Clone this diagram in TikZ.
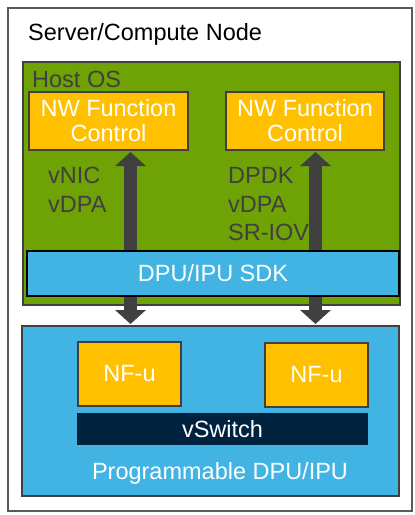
\documentclass[tikz,border=0pt]{standalone}
\usepackage{fontspec}
\setmainfont{Liberation Sans}
\usetikzlibrary{arrows.meta}
\definecolor{hostgreen}{HTML}{6FA204}
\definecolor{dpublue}{HTML}{41B4E4}
\definecolor{nfyellow}{HTML}{FFC000}
\definecolor{swnavy}{HTML}{00223F}
\definecolor{edgegray}{HTML}{404040}
\definecolor{outergray}{HTML}{5A5A5A}
\definecolor{labelgray}{HTML}{404040}
\tikzset{
  boxbase/.style={inner sep=0pt, outer sep=0pt, line width=2pt, draw=edgegray},
  yellowbox/.style={boxbase, fill=nfyellow, text=white, align=center,
    font=\fontsize{23.5}{25}\selectfont},
  whitetext/.style={text=white, inner sep=0pt, font=\fontsize{23.5}{27}\selectfont},
  graytext/.style={text=labelgray, inner sep=0pt, anchor=base west, font=\fontsize{23.5}{27}\selectfont},
  bigarrow/.style={line width=13pt, draw=edgegray,
    {Triangle[width=30pt,length=14pt]}-{Triangle[width=30pt,length=14pt]}}
}
\begin{document}
\begin{tikzpicture}[x=1pt,y=-1pt]
\useasboundingbox (0,0) rectangle (415,515);
% outer server box
\node[boxbase, draw=outergray, fill=white, minimum width=404.5pt, minimum height=503pt] (server) at (209.75,259.1) {};
\node[inner sep=0pt, anchor=base west, font=\fontsize{23.5}{27}\selectfont] (servertitle) at (28,40) {Server/Compute Node};
% host OS
\node[boxbase, fill=hostgreen, minimum width=377pt, minimum height=243pt] (host) at (211.5,183.5) {};
\node[graytext] (hosttitle) at (32,87) {Host OS};
% DPU box
\node[boxbase, fill=dpublue, minimum width=377pt, minimum height=170pt] (dpu) at (210.5,411) {};
\node[whitetext, anchor=base] (dputitle) at (220,479) {Programmable DPU/IPU};
\node[yellowbox, minimum width=103pt, minimum height=64pt] (nfl) at (129.5,374) {NF-u};
\node[yellowbox, minimum width=103pt, minimum height=64pt] (nfr) at (316.5,375) {NF-u};
\node[inner sep=0pt, outer sep=0pt, fill=swnavy, minimum width=291pt, minimum height=32pt, text=white,
  font=\fontsize{23.5}{27}\selectfont] (vswitch) at (222.5,429) {vSwitch};
% NW function control boxes
\node[yellowbox, minimum width=159pt, minimum height=58pt] (nwl) at (108.5,121) {NW Function\\Control};
\node[yellowbox, minimum width=158pt, minimum height=58pt] (nwr) at (305,121) {NW Function\\Control};
% labels
\node[graytext] (vnic) at (48,183) {vNIC};
\node[graytext] (vdpal) at (48,212) {vDPA};
\node[graytext] (dpdk) at (228,183) {DPDK};
\node[graytext] (vdpar) at (228,212) {vDPA};
\node[graytext] (sriov) at (228,240) {SR-IOV};
% arrows
\coordinate (axl) at (130.5,0);
\coordinate (axr) at (315.5,0);
\draw[bigarrow] ([yshift=-2pt]axl |- nwl.south) -- ([yshift=2pt]axl |- dpu.north);
\draw[bigarrow] ([yshift=-2pt]axr |- nwr.south) -- ([yshift=2pt]axr |- dpu.north);
% SDK bar
\node[inner sep=0pt, outer sep=0pt, line width=1.5pt, draw=black, fill=dpublue, minimum width=372pt,
  minimum height=45pt, text=white, font=\fontsize{23.5}{27}\selectfont] (sdk) at (213,273.5) {DPU/IPU SDK};
\end{tikzpicture}
\end{document}
